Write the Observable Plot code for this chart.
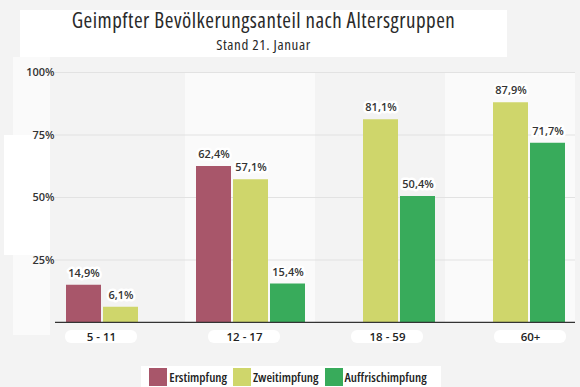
<!DOCTYPE html>
<html>
<head>
<meta charset="utf-8">
<script src="https://cdn.jsdelivr.net/npm/d3@7"></script>
<script src="https://cdn.jsdelivr.net/npm/@observablehq/plot@0.6"></script>
<style>
  html, body { margin: 0; padding: 0; background: #f3f3f3; }
  #wrap { position: relative; width: 580px; height: 387px; overflow: hidden; background: #f3f3f3; font-family: "Open Sans", sans-serif; color: #333; }
  .panel { position: absolute; background: #ffffff; }
  #title { position: absolute; left: 20px; top: 8px; width: 487px; text-align: center; font-size: 21px; font-weight: 500; font-stretch: 87.5%; letter-spacing: 0.5px; line-height: 24px; color: #2a2a2a; }
  #subtitle { position: absolute; left: 20px; top: 35px; width: 487px; text-align: center; font-size: 15px; font-weight: 500; font-stretch: 87.5%; letter-spacing: 0.6px; line-height: 18px; color: #2a2a2a; }
  #chart { position: absolute; left: 0; top: 60px; }
  #xlabels { position: absolute; left: 0; top: 324px; }
  #legend { position: absolute; left: 0; top: 366px; width: 580px; display: flex; justify-content: center; }
  #legend .lg-swatches { background: #fff; padding: 2px 8px 2px 8px; margin: 0 0 0 2px !important; min-height: 0 !important; font-family: "Open Sans", sans-serif; font-size: 13px; font-weight: 600; font-stretch: 87.5%; color: #222; }
  #legend .lg-swatch { margin-right: 6px !important; }
  #legend .lg-swatch svg { margin-right: 2px !important; }
</style>
</head>
<body>
<div id="wrap">
  <div class="panel" style="left:20px;top:10px;width:487px;height:47px;"></div>
  <div class="panel" style="left:13px;top:57px;width:37px;height:278px;background:#fafafa;"></div>
  <div class="panel" style="left:4px;top:135px;width:46px;height:120px;"></div>
  <div id="title">Geimpfter Bevölkerungsanteil nach Altersgruppen</div>
  <div id="subtitle">Stand 21. Januar</div>
  <div id="chart"></div>
  <div id="xlabels"></div>
  <div id="legend"></div>
</div>
<script>
const groups = ["5 - 11", "12 - 17", "18 - 59", "60+"];
const series = ["Erstimpfung", "Zweitimpfung", "Auffrischimpfung"];
const colors = ["#a8566a", "#cfd66b", "#38ab5b"];
const erstimpfung = [14.9, 62.4, null, null];
const zweitimpfung = [6.1, 57.1, 81.1, 87.9];
const auffrischimpfung = [null, 15.4, 50.4, 71.7];
const yTicks = [25, 50, 75, 100];
const shadedGroups = ["12 - 17", "60+"];

const seriesValues = [erstimpfung, zweitimpfung, auffrischimpfung];
const data = [];
groups.forEach((g, gi) => {
  series.forEach((s, si) => {
    const v = seriesValues[si][gi];
    if (v != null) data.push({group: g, series: s, value: v});
  });
});
const fmt = v => v.toFixed(1).replace(".", ",") + "%";

const chart = Plot.plot({
  width: 580,
  height: 263,
  marginTop: 12,
  marginBottom: 1,
  marginLeft: 55,
  marginRight: 5,
  style: {background: "transparent", fontFamily: "Open Sans, sans-serif"},
  fx: {domain: groups, padding: 0, axis: null},
  x: {domain: series, paddingInner: 0.067, paddingOuter: 0.267, axis: null},
  y: {domain: [0, 100], axis: null},
  color: {domain: series, range: colors},
  marks: [
    Plot.rect(shadedGroups.map(g => ({group: g})), {fx: "group", y1: 0, y2: 100, fill: "#fafafa"}),
    Plot.ruleY(yTicks, {stroke: "#e2e2e2", strokeWidth: 1.2}),
    Plot.axisY({ticks: yTicks, label: null, tickSize: 0, tickPadding: 1, tickFormat: d => d + "%", fontSize: 11, fontWeight: 600, fill: "#333"}),
    Plot.barY(data, {fx: "group", x: "series", y: "value", fill: "series"}),
    Plot.ruleY([0], {stroke: "#333", strokeWidth: 1.5}),
    Plot.text(data, {fx: "group", x: "series", y: "value", text: d => fmt(d.value), dy: -12,
      fontSize: 11, fontWeight: 600, fill: "#333", stroke: "white", strokeWidth: 5, strokeLinejoin: "round", paintOrder: "stroke"})
  ]
});
document.getElementById("chart").appendChild(chart);

const xl = Plot.plot({
  width: 580,
  height: 26,
  margin: 0,
  style: {background: "transparent", fontFamily: "Open Sans, sans-serif"},
  x: {domain: groups, range: [29.5, 601.5], paddingInner: 0.5, paddingOuter: 0.25, axis: null},
  y: {domain: ["a"], range: [6, 19], padding: 0, axis: null},
  marks: [
    Plot.cell(groups, {x: d => d, y: () => "a", fill: "white", rx: 6}),
    Plot.text(groups, {x: d => d, y: () => "a", text: d => d, fontSize: 11.5, fontWeight: 600, fill: "#222"})
  ]
});
document.getElementById("xlabels").appendChild(xl);

const lg = Plot.legend({color: {domain: series, range: colors}, swatchSize: 18, className: "lg"});
document.getElementById("legend").appendChild(lg);
</script>
</body>
</html>
